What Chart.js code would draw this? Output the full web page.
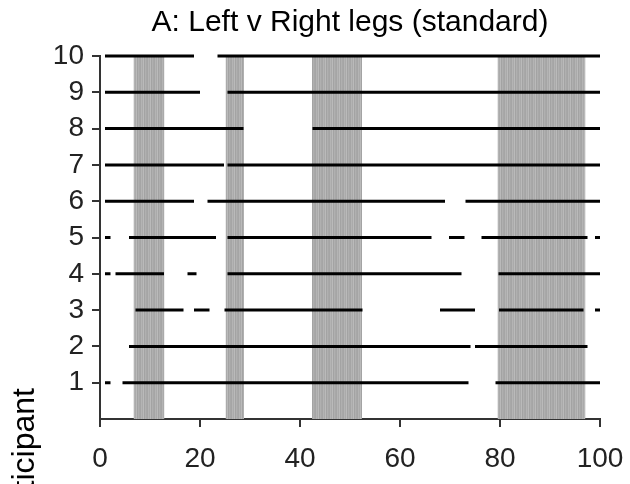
<!DOCTYPE html>
<html>
<head>
<meta charset="utf-8">
<script src="https://cdn.jsdelivr.net/npm/chart.js@4"></script>
<style>
  body { margin: 0; background: #fff; }
</style>
</head>
<body>
<canvas id="myChart" width="630" height="484"></canvas>
<script>
    // Segmen garis tiap partisipan [mulai, akhir]
    var p1 = [[1, 2.1], [4.5, 73.7], [79.1, 100]];
    var p2 = [[5.8, 74.1], [75, 97.5]];
    var p3 = [[7.1, 16.7], [18.8, 21.9], [24.9, 52.5], [68, 75], [79.8, 96.7], [99, 100]];
    var p4 = [[1, 2.1], [3.1, 12.8], [17.5, 19.3], [25.5, 72.3], [79.7, 100]];
    var p5 = [[1, 2.1], [5.8, 23.2], [25.5, 66.3], [69.8, 72.9], [76.3, 97.5], [99, 100]];
    var p6 = [[1, 18.8], [21.5, 69], [73.1, 100]];
    var p7 = [[1, 24.8], [25.5, 100]];
    var p8 = [[1, 28.7], [42.5, 100]];
    var p9 = [[1, 20], [25.5, 100]];
    var p10 = [[1, 18.8], [23.5, 100]];
    var participants = [1, 2, 3, 4, 5, 6, 7, 8, 9, 10];
    var segments = [p1, p2, p3, p4, p5, p6, p7, p8, p9, p10];

    // Area abu-abu
    var bandStart = [6.7, 25.1, 42.4, 79.5];
    var bandEnd = [12.9, 28.8, 52.4, 97.1];

    var xTicks = [0, 20, 40, 60, 80, 100];
    var yTicks = [1, 2, 3, 4, 5, 6, 7, 8, 9, 10];

    var FONT = '"Liberation Sans", Arial, sans-serif';

    // Pola garis vertikal untuk area abu-abu
    var pc = document.createElement('canvas');
    pc.width = 7; pc.height = 1;
    var pctx = pc.getContext('2d');
    var greys = ['#a5a5a5', '#b4b4b4', '#aaaaaa', '#bababa', '#a3a3a3', '#b0b0b0', '#a8a8a8'];
    greys.forEach(function (g, i) { pctx.fillStyle = g; pctx.fillRect(i, 0, 1, 1); });
    var ctx = document.getElementById('myChart').getContext('2d');
    var stripes = ctx.createPattern(pc, 'repeat');

    var datasets = [];
    participants.forEach(function (p, i) {
      var pts = [];
      segments[i].forEach(function (s) {
        pts.push({ x: s[0], y: p });
        pts.push({ x: s[1], y: p });
        pts.push({ x: s[1], y: null });
      });
      datasets.push({
        data: pts,
        borderColor: '#000',
        borderWidth: 3,
        borderCapStyle: 'butt',
        pointRadius: 0,
        fill: false,
        clip: 6,
        order: 0
      });
    });
    bandStart.forEach(function (b, i) {
      datasets.push({
        data: [{ x: b, y: 10 }, { x: bandEnd[i], y: 10 }],
        borderWidth: 0,
        pointRadius: 0,
        backgroundColor: stripes,
        fill: 'origin',
        order: 1
      });
    });

    var textPlugin = {
      id: 'texts',
      afterDraw: function (chart) {
        var c = chart.ctx, a = chart.chartArea;
        c.save();
        c.fillStyle = '#000';
        c.font = '30px ' + FONT;
        c.textAlign = 'center';
        c.textBaseline = 'middle';
        c.fillText('A: Left v Right legs (standard)', (a.left + a.right) / 2, 23);
        c.font = '32px ' + FONT;
        c.translate(34, 388);
        c.rotate(-Math.PI / 2);
        c.textAlign = 'right';
        c.textBaseline = 'alphabetic';
        c.fillText('Participant', 0, 0);
        c.restore();
      }
    };

    var options = {
      responsive: false,
      animation: false,
      events: [],
      layout: { padding: { top: 56, right: 30, left: 0, bottom: 0 } },
      plugins: { legend: { display: false }, tooltip: { enabled: false } },
      scales: {
        x: {
          type: 'linear',
          min: 0,
          max: 100,
          afterBuildTicks: function (s) { s.ticks = xTicks.map(function (v) { return { value: v }; }); },
          afterFit: function (s) { s.height = 65; s.paddingLeft = 0; s.paddingRight = 0; },
          border: { color: '#333', width: 2 },
          grid: { drawOnChartArea: false, color: '#333', lineWidth: 2, tickLength: 8 },
          ticks: { color: '#222', font: { size: 28, family: FONT }, padding: 15, maxRotation: 0, autoSkip: false }
        },
        y: {
          type: 'linear',
          min: 0,
          max: 10,
          afterBuildTicks: function (s) { s.ticks = yTicks.map(function (v) { return { value: v }; }); },
          afterFit: function (s) { s.width = 100; s.paddingTop = 0; s.paddingBottom = 0; },
          border: { color: '#333', width: 2 },
          grid: { drawOnChartArea: false, color: '#333', lineWidth: 2, tickLength: 8 },
          ticks: { color: '#222', font: { size: 28, family: FONT }, padding: 8, autoSkip: false }
        }
      }
    };

    var myChart = new Chart(ctx, {
      type: 'line',
      data: { datasets: datasets },
      options: options,
      plugins: [textPlugin]
    });
</script>
</body>
</html>
